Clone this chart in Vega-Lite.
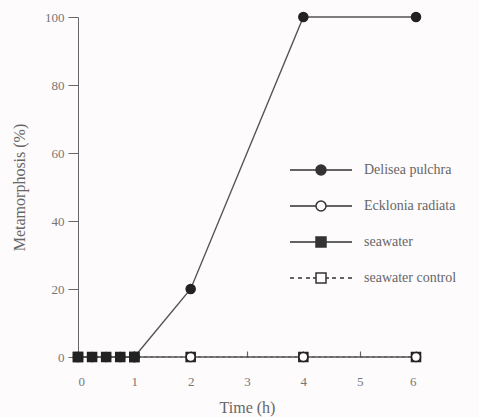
{
  "$schema": "https://vega.github.io/schema/vega-lite/v6.json",
  "width": 338,
  "height": 340,
  "autosize": "none",
  "padding": {"left": 78, "top": 17, "right": 63, "bottom": 60},
  "background": "#fdfbfb",
  "config": {
    "view": {"stroke": null},
    "font": "Liberation Serif",
    "axis": {"labelFont": "Liberation Serif", "titleFont": "Liberation Serif", "labelColor": "#777", "titleColor": "#666", "domainColor": "#666", "tickColor": "#666", "grid": false, "labelFontSize": 13, "titleFontSize": 16, "titleFontWeight": "normal"},
    "legend": {"labelFont": "Liberation Serif", "labelColor": "#666", "labelFontSize": 14}
  },
  "data": {"values": [
    {"series": "seawater control", "time": 0, "value": 0},
    {"series": "seawater control", "time": 1, "value": 0},
    {"series": "seawater control", "time": 2, "value": 0},
    {"series": "seawater control", "time": 4, "value": 0},
    {"series": "seawater control", "time": 6, "value": 0},
    {"series": "seawater", "time": 0, "value": 0},
    {"series": "seawater", "time": 0.25, "value": 0},
    {"series": "seawater", "time": 0.5, "value": 0},
    {"series": "seawater", "time": 0.75, "value": 0},
    {"series": "seawater", "time": 1, "value": 0},
    {"series": "Ecklonia radiata", "time": 1, "value": 0},
    {"series": "Ecklonia radiata", "time": 2, "value": 0},
    {"series": "Ecklonia radiata", "time": 4, "value": 0},
    {"series": "Ecklonia radiata", "time": 6, "value": 0},
    {"series": "Delisea pulchra", "time": 0, "value": 0},
    {"series": "Delisea pulchra", "time": 0.25, "value": 0},
    {"series": "Delisea pulchra", "time": 0.5, "value": 0},
    {"series": "Delisea pulchra", "time": 0.75, "value": 0},
    {"series": "Delisea pulchra", "time": 1, "value": 0},
    {"series": "Delisea pulchra", "time": 2, "value": 20},
    {"series": "Delisea pulchra", "time": 4, "value": 100},
    {"series": "Delisea pulchra", "time": 6, "value": 100}
  ]},
  "encoding": {
    "x": {"field": "time", "type": "quantitative", "scale": {"domain": [0, 6], "nice": false}, "axis": {"title": "Time (h)", "values": [0, 1, 2, 3, 4, 5, 6], "format": "d", "domain": false, "tickSize": -6, "tickWidth": 1.2, "labelPadding": 24, "titlePadding": 11}},
    "y": {"field": "value", "type": "quantitative", "scale": {"domain": [0, 100], "nice": false}, "axis": {"title": "Metamorphosis (%)", "values": [0, 20, 40, 60, 80, 100], "tickSize": 10, "labelPadding": 4, "titlePadding": 17}}
  },
  "layer": [
    {
      "transform": [{"filter": "datum.series === 'seawater control'"}],
      "mark": {"type": "line", "color": "#555", "strokeWidth": 1.2, "strokeDash": [3, 3]},
      "encoding": {"order": {"field": "time"}}
    },
    {
      "transform": [{"filter": "datum.series !== 'seawater control'"}],
      "mark": {"type": "line", "color": "#555", "strokeWidth": 1.4},
      "encoding": {"detail": {"field": "series"}, "order": {"field": "time"}}
    },
    {
      "mark": {"type": "point", "size": 80, "strokeWidth": 1.6, "opacity": 1, "stroke": "#222"},
      "encoding": {
        "shape": {"condition": {"test": "indexof(datum.series, 'seawater') >= 0", "value": "square"}, "value": "circle"},
        "fill": {"condition": {"test": "datum.series === 'seawater control' || datum.series === 'Ecklonia radiata'", "value": "#ffffff"}, "value": "#222222"}
      }
    },
    {
      "transform": [{"filter": "datum.value > 1000"}],
      "mark": {"type": "point", "size": 100, "strokeWidth": 1.5, "opacity": 1, "color": "#333", "filled": false},
      "encoding": {
        "shape": {"field": "series", "type": "nominal", "scale": {"domain": ["Delisea pulchra", "Ecklonia radiata", "seawater", "seawater control"], "range": [
          "M-6.2,0H-1M1,0H6.2M-1,0A1,1 0 1,1 1,0A1,1 0 1,1 -1,0M-0.7,0A0.7,0.7 0 1,1 0.7,0A0.7,0.7 0 1,1 -0.7,0M-0.4,0A0.4,0.4 0 1,1 0.4,0A0.4,0.4 0 1,1 -0.4,0M-0.12,0A0.12,0.12 0 1,1 0.12,0A0.12,0.12 0 1,1 -0.12,0",
          "M-6.2,0H-1M1,0H6.2M-1,0A1,1 0 1,1 1,0A1,1 0 1,1 -1,0",
          "M-6.2,0H-1M1,0H6.2M-1,-1H1V1H-1ZM-0.7,-0.7H0.7V0.7H-0.7ZM-0.4,-0.4H0.4V0.4H-0.4ZM-0.1,-0.1H0.1V0.1H-0.1Z",
          "M-6.2,0H-5.4M-4.6,0H-3.8M-3,0H-2.2M-1.6,0H-1M1,0H1.6M2.2,0H3M3.8,0H4.6M5.4,0H6.2M-1,-1H1V1H-1Z"
        ]}, "legend": {
          "title": null, "orient": "none", "legendX": 236, "legendY": 146, "rowPadding": 20, "labelOffset": 36, "padding": 0,
          "symbolStrokeWidth": 1.5, "symbolStrokeColor": "#333", "symbolSize": 100,
          "encode": {
            "labels": {"update": {"fontStyle": {"signal": "indexof(datum.value, 'seawater') >= 0 ? 'normal' : 'italic'"}}}
          }
        }}
      }
    }
  ]
}
